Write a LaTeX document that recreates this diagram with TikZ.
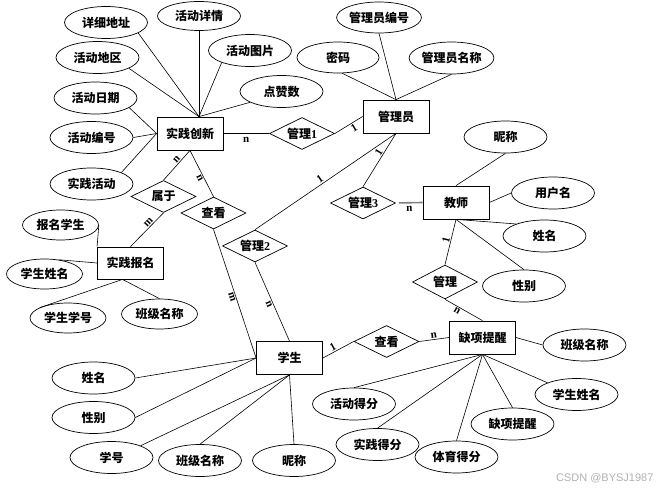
\documentclass[tikz,border=0pt]{standalone}
\usepackage{fontspec}
\setmainfont{Liberation Serif}
\newfontfamily\cjk{Noto Sans CJK SC}
\newfontfamily\wmfont{Liberation Sans}
\usetikzlibrary{shapes.geometric,calc}
\begin{document}
\begin{tikzpicture}[x=1pt,y=-1pt,
  every node/.style={font=\cjk\bfseries\fontsize{12}{14}\selectfont},
  attr/.style={ellipse,draw,line width=0.7pt,minimum width=83pt,minimum height=32pt,inner sep=0pt},
  attrs/.style={attr,minimum width=76pt,minimum height=30pt},
  ent/.style={rectangle,draw,line width=0.8pt,minimum width=66pt,minimum height=33pt,inner sep=0pt},
  rel/.style={diamond,draw,line width=0.7pt,minimum width=65pt,minimum height=32pt,inner sep=0pt},
  conn/.style={line width=0.6pt},
  card/.style={font=\bfseries\fontsize{11}{12}\selectfont,inner sep=1pt,sloped},
]
\fill[white] (0,0) rectangle (672,492);
\useasboundingbox (0,0) rectangle (672,492);

% 实践创新 and attributes
\node[attr] (xxdz) at (106,22.5) {详细地址};
\node[attr,minimum height=29pt] (hdxq) at (199,16) {活动详情};
\node[attr] (hdtp) at (250,50.5) {活动图片};
\node[attr] (hddq) at (97.5,57.5) {活动地区};
\node[attr] (dzs) at (281.5,91.5) {点赞数};
\node[attr] (hdrq) at (95.5,98) {活动日期};
\node[attr] (hdbh) at (91.5,137.5) {活动编号};
\node[attr] (sjhd) at (91.5,184) {实践活动};
\node[ent] (sjcx) at (190,133.5) {实践创新};
\node[rel, label=center:{管理{\rmfamily 1}}] (gl1) at (302,133.5) {};

% 管理员
\node[attr,minimum width=82pt,minimum height=31pt] (glybh) at (379,17.5) {管理员编号};
\node[attr,minimum width=82pt,minimum height=31pt] (mm) at (338,57.5) {密码};
\node[attr] (glymc) at (451.5,58) {管理员名称};
\node[ent] (gly) at (396,116.5) {管理员};
\node[rel, label=center:{管理{\rmfamily 3}}] (gl3) at (363,203) {};

% 教师
\node[ent] (js) at (456,202.5) {教师};
\node[attr] (ncT) at (505.5,137) {昵称};
\node[attr] (yhm) at (553,193) {用户名};
\node[attr] (xmT) at (544.5,236) {姓名};
\node[attr] (xbT) at (524,286) {性别};
\node[rel,minimum height=34pt, label=center:管理] (gl) at (445,282) {};

% 缺项提醒
\node[ent] (qx) at (482.5,337.5) {缺项提醒};
\node[attr] (bjR) at (584.5,345) {班级名称};
\node[attr] (xsxmR) at (576.5,394.5) {学生姓名};
\node[attr] (qxE) at (512.5,424) {缺项提醒};
\node[attr] (tydf) at (456.5,457) {体育得分};
\node[attr] (sjdf) at (377.5,444.5) {实践得分};
\node[attr] (hddf) at (354,404) {活动得分};
\node[rel, label=center:查看] (ck2) at (386.5,341.5) {};

% 学生
\node[ent] (xs) at (289.5,358) {学生};
\node[attr] (xm) at (93.5,378) {姓名};
\node[attr] (xb) at (93.5,417.5) {性别};
\node[attr] (xh) at (111.5,457.5) {学号};
\node[attr] (bj) at (200,460.5) {班级名称};
\node[attr] (nc) at (294,460.5) {昵称};
\node[rel, label=center:{管理{\rmfamily 2}}] (gl2) at (255,246) {};
\node[rel, label=center:查看] (ck1) at (213.5,213) {};
\node[rel, label=center:属于] (sy) at (163.5,196.5) {};

% 实践报名
\node[ent,minimum height=32pt] (sjbm) at (130.5,263) {实践报名};
\node[attrs] (bmxs) at (60.5,225) {报名学生};
\node[attrs] (xsxmL) at (44.5,274) {学生姓名};
\node[attrs] (xsxh) at (68,318) {学生学号};
\node[attrs] (bjL) at (159.5,314) {班级名称};

\coordinate (T) at ($(sjcx.north)+(9,0)$);
\coordinate (B) at ($(sjbm.south)+(-8,0)$);

% attribute lines
\draw[conn] (xxdz.-18) -- (T);
\draw[conn] (hdxq.south) -- (T);
\draw[conn] (hdtp.203) -- (T);
\draw[conn] (hddq.-19) -- (T);
\draw[conn] (dzs.199) -- (T);
\draw[conn] (hdrq.-16) -- (sjcx.west);
\draw[conn] (hdbh.east) -- (sjcx.west);
\draw[conn] (sjhd.21) -- (sjcx.west);

\draw[conn] (glybh.south) -- (gly.north);
\draw[conn] (mm.-75) -- (gly.north);
\draw[conn] (glymc.south) -- (gly.north);

\draw[conn] (ncT.south) -- (js.north);
\draw[conn] (yhm.west) -- (js.east);
\draw[conn] (xmT.157) -- (js.south);
\draw[conn] (xbT.north) -- (js.south);

\draw[conn] (bjR.west) -- (qx.east);
\draw[conn] (hddf.north) -- (qx.south);
\draw[conn] (sjdf.north) -- (qx.south);
\draw[conn] (tydf.north) -- (qx.south);
\draw[conn] (qxE.north) -- (qx.south);
\draw[conn] (xsxmR.158) -- (qx.south);

\draw[conn] (xm.east) -- (xs.west);
\draw[conn] (xb.east) -- (xs.west);
\draw[conn] (xh.22) -- (xs.south);
\draw[conn] (bj.north) -- (xs.south);
\draw[conn] (nc.north) -- (xs.south);

\draw[conn] (bmxs.east) -- (sjbm.north west);
\draw[conn] (xsxmL.45) -- (sjbm.west);
\draw[conn] (xsxh.160) -- (B);
\draw[conn] (bjL.north) -- (B);

% relationship lines
\draw[conn] (sjcx.east) -- node[card,below=3pt,pos=.5]{n} (gl1.west);
\draw[conn] (gl1.east) -- node[card,below,pos=.6]{1} (gly.west);
\draw[conn] (gly.south) -- node[card,pos=.4,above]{1} (gl3.north);
\draw[conn] (gly.south) -- node[card,pos=.52,above]{1} (gl2.north);
\draw[gray,line width=1.6pt,shorten <=3pt] (gl3.east) -- node[card,black,below=2pt]{n} (js.west);
\draw[conn] (js.south) -- node[card,pos=.48,above]{1} (gl.north);
\draw[conn] (gl.south) -- node[card,pos=.37,below]{n} (qx.north);
\draw[conn] (ck2.east) -- node[card,pos=.5,above]{n} (qx.west);
\draw[conn] (xs.east) -- node[card,pos=.4,above]{1} (ck2.west);
\draw[conn] (ck1.south) -- node[card,pos=.52,below]{m} (xs.west);
\draw[conn] (gl2.south) -- node[card,pos=.51,below]{n} (xs.north);
\draw[conn] (sjcx.south) -- node[card,pos=.39,above]{n} (sy.north);
\draw[conn] (sjcx.south) -- node[card,pos=.57,below]{n} (ck1.north);
\draw[conn] (sy.south) -- node[card,pos=.37,above]{m} (sjbm.north);

\node[font=\wmfont\fontsize{11}{12}\selectfont,text=black!30,anchor=east] (wm) at (657,478) {CSDN @BYSJ1987};
\end{tikzpicture}
\end{document}
